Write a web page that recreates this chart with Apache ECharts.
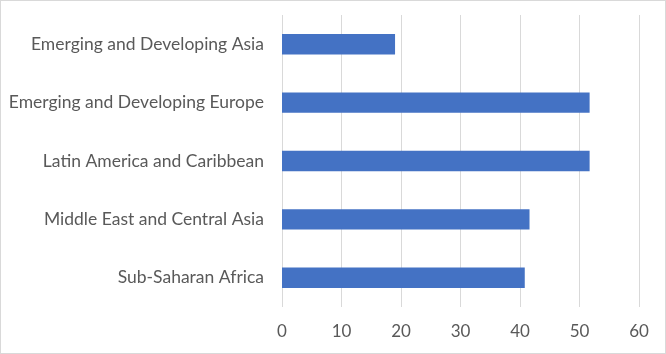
<!DOCTYPE html>
<html lang="en">
<head>
  <meta charset="UTF-8">
  <title>Regions bar chart</title>
  <script src="https://cdn.jsdelivr.net/npm/echarts@6/dist/echarts.min.js"></script>
  <style>
    html, body { margin: 0; padding: 0; background: #fff; }
    #target {
      width: 664px;
      height: 352px;
      border: 1px solid #d9d9d9;
    }
  </style>
</head>
<body>
  <div id="target"></div>
  <script>
    // top to bottom, as in the picture
    const regions = [
      'Emerging and Developing Asia',
      'Emerging and Developing Europe',
      'Latin America and Caribbean',
      'Middle East and Central Asia',
      'Sub-Saharan Africa'
    ];
    const values = [19, 51.7, 51.7, 41.6, 40.8];
    const xTicks = [0, 10, 20, 30, 40, 50, 60];

    const labelFont = 'Lato, "Open Sans", sans-serif';

    const option = {
      animation: false,
      grid: { left: 281, right: 26, top: 14, bottom: 46, containLabel: false },
      xAxis: {
        type: 'value',
        min: xTicks[0],
        max: xTicks[xTicks.length - 1],
        interval: 10,
        axisLine: { show: false },
        axisTick: { show: false },
        splitLine: { show: true, lineStyle: { color: '#d9d9d9', width: 1 } },
        axisLabel: { color: '#595959', fontSize: 17, fontFamily: labelFont, margin: 16 }
      },
      yAxis: {
        type: 'category',
        inverse: true,
        data: regions,
        axisLine: { show: false },
        axisTick: { show: false },
        axisLabel: { color: '#595959', fontSize: 17.5, fontFamily: labelFont, margin: 18 }
      },
      series: [{
        type: 'bar',
        data: values,
        barCategoryGap: '65%',
        itemStyle: { color: '#4472c4' }
      }]
    };
    echarts.init(document.getElementById('target')).setOption(option);
  </script>
</body>
</html>
